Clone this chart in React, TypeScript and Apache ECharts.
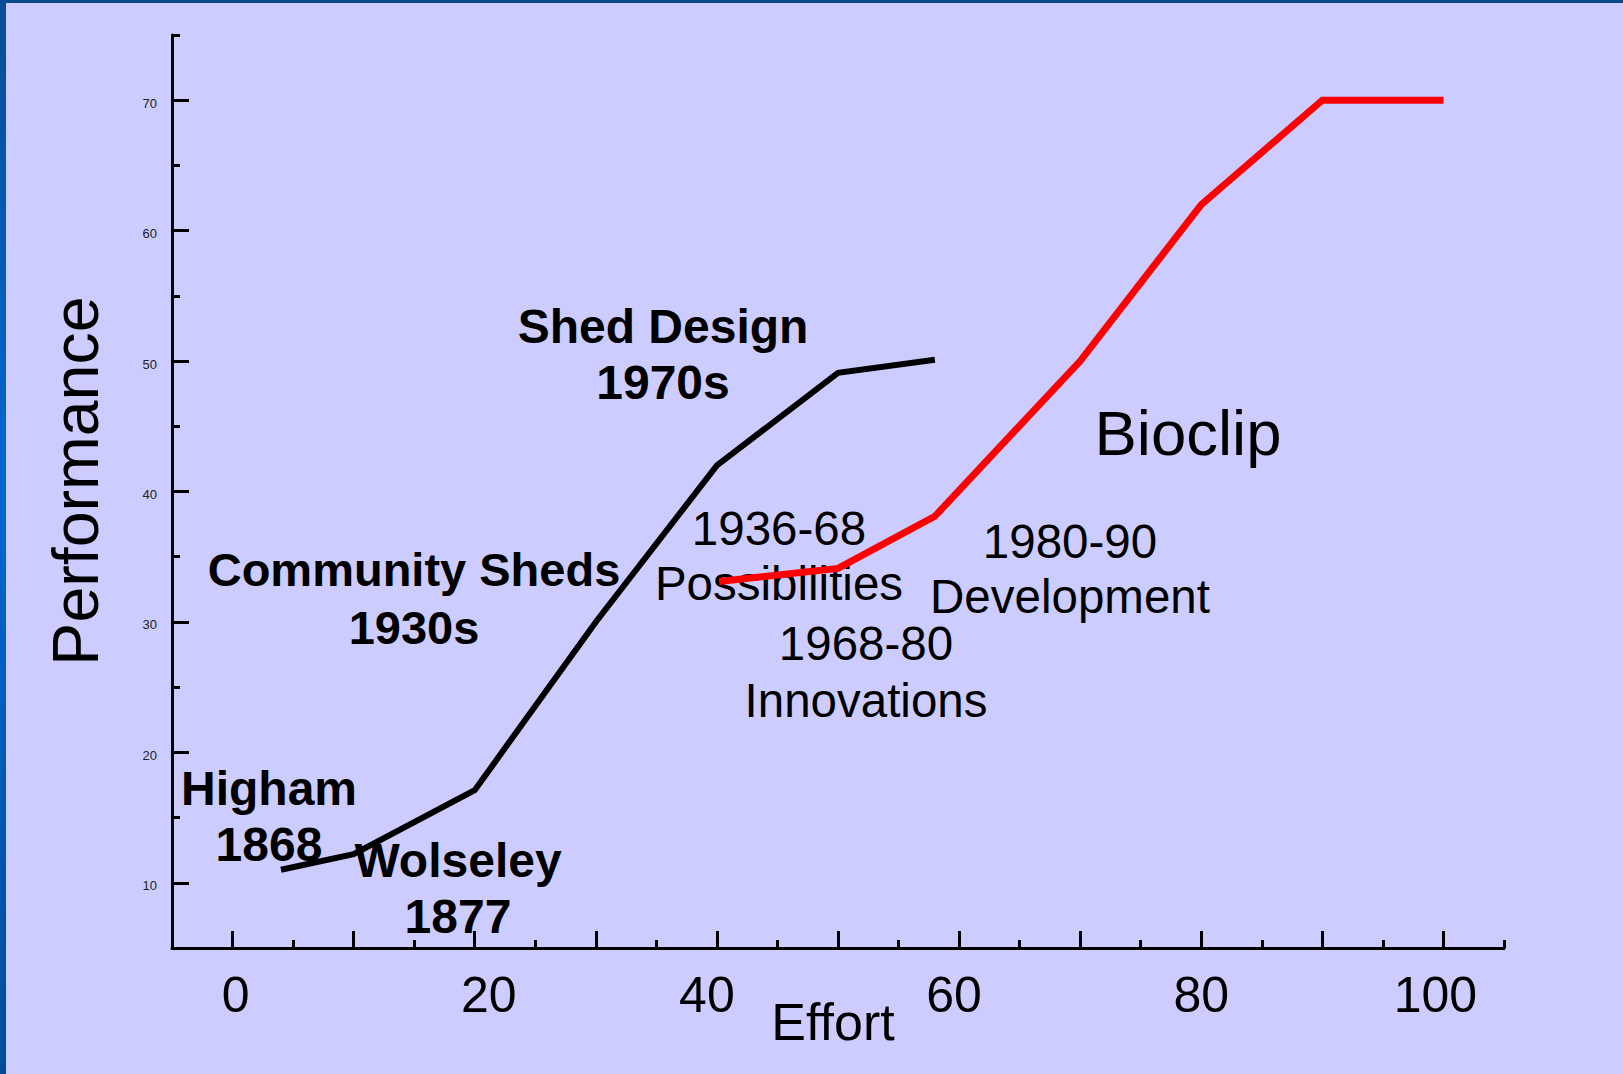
import React, { useEffect, useRef } from "react";
import * as echarts from "echarts";

// ---- data ----
const blackEffort = [4, 10, 20, 30, 40, 50, 58];
const blackPerformance = [11, 12.2, 17.1, 30, 42, 49.1, 50.1];
const redEffort = [40.2, 50, 58, 70, 80, 90, 100];
const redPerformance = [33.1, 34.1, 38.1, 50, 62, 70, 70];

const xTickLabels = [0, 20, 40, 60, 80, 100];
const xMajorTicks = [0, 10, 20, 30, 40, 50, 60, 70, 80, 90, 100];
const xMinorTicks = [-5, 5, 15, 25, 35, 45, 55, 65, 75, 85, 95, 105];
const yTickLabels = [10, 20, 30, 40, 50, 60, 70];
const yMajorTicks = [10, 20, 30, 40, 50, 60, 70];
const yMinorTicks = [15, 25, 35, 45, 55, 65, 75];

const annotationTexts = [
  "Shed Design\n1970s",
  "Community Sheds\n1930s",
  "Higham\n1868",
  "Wolseley\n1877",
  "1936-68\nPossibilities",
  "1968-80\nInnovations",
  "1980-90\nDevelopment",
  "Bioclip",
];
const xAxisTitle = "Effort";
const yAxisTitle = "Performance";

// ---- layout / style (not data) ----
const FONT = "'Liberation Sans', Arial, Helvetica, sans-serif";
const annotationLayout = [
  { x: 663, y: 354, size: 48, bold: true, lh: 56 },
  { x: 414, y: 598, size: 47, bold: true, lh: 58 },
  { x: 269, y: 816, size: 48, bold: true, lh: 56 },
  { x: 458, y: 888, size: 48, bold: true, lh: 56 },
  { x: 779, y: 556, size: 47.5, bold: false, lh: 55 },
  { x: 866, y: 672, size: 47.5, bold: false, lh: 57 },
  { x: 1070, y: 569, size: 47.5, bold: false, lh: 55 },
  { x: 1188, y: 433, size: 63.5, bold: false, lh: 64 },
];
const xLabelNudge: Record<string, number> = { "0": 3, "20": 14, "40": -10, "60": -5, "80": 0, "100": -8 };

export default function App() {
  const ref = useRef<HTMLDivElement>(null);

  useEffect(() => {
    if (!ref.current) return;
    const chart = echarts.init(ref.current, null, { renderer: "svg" });

    const rich: Record<string, any> = {};
    xTickLabels.forEach((v) => {
      const d = xLabelNudge[String(v)] || 0;
      rich["p" + v] = {
        fontSize: 50,
        fontFamily: FONT,
        color: "#000",
        lineHeight: 50,
        padding: d >= 0 ? [0, 0, 0, 2 * d] : [0, -2 * d, 0, 0],
      };
    });

    const annotationGraphics = annotationTexts.map((t, i) => {
      const l = annotationLayout[i];
      return {
        type: "text",
        x: l.x,
        y: l.y,
        z: 1,
        style: {
          text: t,
          fontSize: l.size,
          fontWeight: l.bold ? "bold" : "normal",
          fontFamily: FONT,
          fill: "#000",
          lineHeight: l.lh,
          align: "center",
          verticalAlign: "middle",
          textAlign: "center",
          textVerticalAlign: "middle",
        },
      };
    });

    const option: any = {
      animation: false,
      backgroundColor: "#ccccff",
      grid: { left: 172, right: 119, top: 35, bottom: 126, containLabel: false },
      xAxis: [
        {
          type: "value",
          min: -5,
          max: 105,
          position: "bottom",
          splitLine: { show: false },
          axisLine: { show: true, onZero: false, lineStyle: { color: "#000", width: 3 } },
          axisTick: {
            show: true,
            inside: true,
            length: 17,
            customValues: xMajorTicks,
            lineStyle: { color: "#000", width: 3 },
          },
          axisLabel: {
            show: true,
            customValues: xTickLabels,
            margin: 22,
            fontSize: 50,
            fontFamily: FONT,
            color: "#000",
            formatter: (v: number) => `{p${v}|${v}}`,
            rich,
          },
        },
        {
          type: "value",
          min: -5,
          max: 105,
          position: "bottom",
          splitLine: { show: false },
          axisLine: { show: false, onZero: false },
          axisTick: {
            show: true,
            inside: true,
            length: 8,
            customValues: xMinorTicks,
            lineStyle: { color: "#000", width: 3 },
          },
          axisLabel: { show: false },
        },
      ],
      yAxis: [
        {
          type: "value",
          min: 5,
          max: 75,
          position: "left",
          splitLine: { show: false },
          axisLine: { show: true, onZero: false, lineStyle: { color: "#000", width: 3 } },
          axisTick: {
            show: true,
            inside: true,
            length: 17,
            customValues: yMajorTicks,
            lineStyle: { color: "#000", width: 3 },
          },
          axisLabel: {
            show: true,
            customValues: yTickLabels,
            margin: 15,
            fontSize: 13,
            fontFamily: FONT,
            color: "#222",
            formatter: (v: number) => `{y|${v}}`,
            rich: {
              y: {
                fontSize: 13,
                fontFamily: FONT,
                color: "#222",
                lineHeight: 14,
                padding: [6, 0, 0, 0],
              },
            },
          },
        },
        {
          type: "value",
          min: 5,
          max: 75,
          position: "left",
          splitLine: { show: false },
          axisLine: { show: false, onZero: false },
          axisTick: {
            show: true,
            inside: true,
            length: 8,
            customValues: yMinorTicks,
            lineStyle: { color: "#000", width: 3 },
          },
          axisLabel: { show: false },
        },
      ],
      series: [
        {
          name: "Sheds",
          type: "line",
          xAxisIndex: 0,
          yAxisIndex: 0,
          symbol: "none",
          clip: false,
          z: 3,
          lineStyle: { color: "#000", width: 6, join: "miter" },
          data: blackEffort.map((x, i) => [x, blackPerformance[i]]),
        },
        {
          name: "Bioclip",
          type: "line",
          xAxisIndex: 0,
          yAxisIndex: 0,
          symbol: "none",
          clip: false,
          z: 4,
          lineStyle: { color: "#ff0000", width: 7, join: "miter" },
          data: redEffort.map((x, i) => [x, redPerformance[i]]),
        },
      ],
      graphic: [
        ...annotationGraphics,
        {
          type: "text",
          x: 833,
          y: 1022,
          z: 1,
          style: {
            text: xAxisTitle,
            fontSize: 52,
            fontFamily: FONT,
            fill: "#000",
            align: "center",
            verticalAlign: "middle",
            textAlign: "center",
            textVerticalAlign: "middle",
          },
        },
        {
          type: "text",
          x: 76,
          y: 481,
          rotation: Math.PI / 2,
          z: 1,
          style: {
            text: yAxisTitle,
            fontSize: 64.5,
            fontFamily: FONT,
            fill: "#000",
            align: "center",
            verticalAlign: "middle",
            textAlign: "center",
            textVerticalAlign: "middle",
          },
        },
        {
          type: "rect",
          z: 10,
          shape: { x: 0, y: 0, width: 1623, height: 3 },
          style: { fill: "#08498c" },
        },
        {
          type: "rect",
          z: 10,
          shape: { x: 0, y: 0, width: 6, height: 1074 },
          style: {
            fill: new echarts.graphic.LinearGradient(0, 0, 0, 1, [
              { offset: 0, color: "#0a4d94" },
              { offset: 0.45, color: "#0068d2" },
              { offset: 1, color: "#004c98" },
            ]),
          },
        },
      ],
    };

    chart.setOption(option);
    return () => chart.dispose();
  }, []);

  return (
    <div
      ref={ref}
      style={{ position: "fixed", left: 0, top: 0, width: 1623, height: 1074 }}
    />
  );
}
